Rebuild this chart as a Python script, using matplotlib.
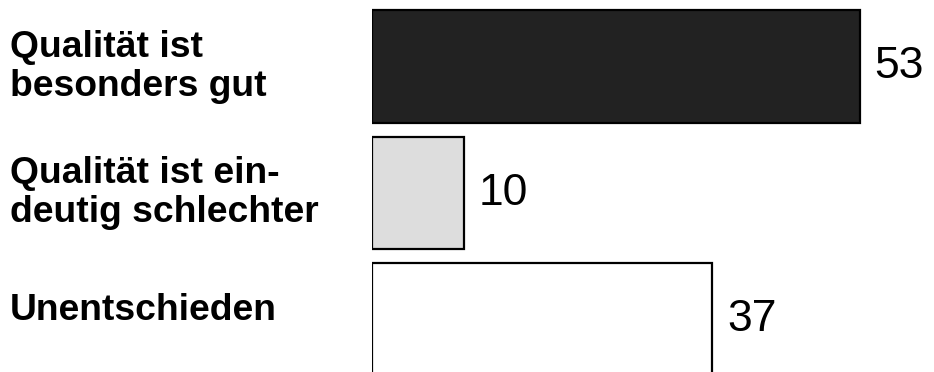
import matplotlib.pyplot as plt
import matplotlib.transforms as mtransforms

plt.rcParams['font.family'] = ['Liberation Sans', 'DejaVu Sans']

# data
categories = ["Qualität ist\nbesonders gut", "Qualität ist ein-\ndeutig schlechter", "Unentschieden"]
values = [53, 10, 37]
fill_colors = ["#222222", "#dddddd", "#ffffff"]

W, H = 934, 372
fig = plt.figure(figsize=(W / 100, H / 100), dpi=100)
ax = fig.add_axes([372 / W, 0, 1 - 372 / W, 1])

ypos = list(range(len(values)))
ax.barh(ypos, values, height=0.89, color=fill_colors, edgecolor="black", linewidth=1.6)

ax.set_xlim(0, (W - 372) / 9.2)
ax.set_ylim(2.415, -0.526)
ax.axis("off")

# value labels, offset a few pixels right of bar end
offset = mtransforms.offset_copy(ax.transData, fig=fig, x=15, y=0, units="dots")
for y, v in zip(ypos, values):
    ax.text(v, y, str(v), transform=offset, ha="left", va="center", fontsize=32, color="black")

# category labels at the left edge of the figure
blend = mtransforms.blended_transform_factory(fig.transFigure, ax.transData)
for y, lab in zip(ypos, categories):
    fig.text(10 / W, y - 0.07 if y == 2 else y, lab, transform=blend, ha="left", va="center",
             fontsize=26.8, fontweight="bold", linespacing=1.15)

fig.savefig("out.png", dpi=100)
